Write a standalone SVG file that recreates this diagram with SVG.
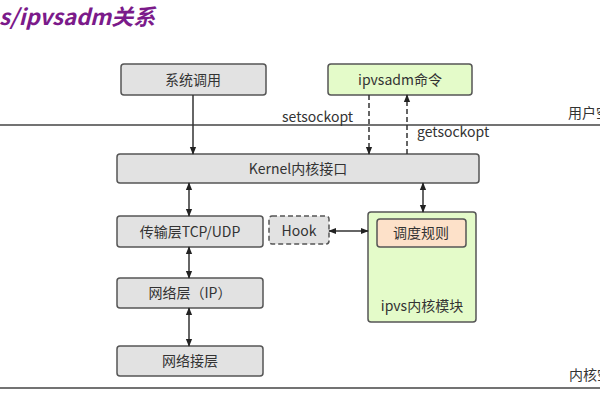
<svg xmlns="http://www.w3.org/2000/svg" width="600" height="400" viewBox="0 0 600 400">
<style>
text{font-family:"Noto Sans CJK SC","Noto Sans",sans-serif;fill:#333;font-size:14px}
.c{text-anchor:middle}
.box{fill:#e2e2e2;stroke:#555;stroke-width:1.5}
.green{fill:#e4fbc9;stroke:#555;stroke-width:1.5}
.ln{stroke:#333;stroke-width:1.5;fill:none}
.dash{stroke-dasharray:5,3}
</style>
<defs>
<marker id="ah" viewBox="0 0 10 10" refX="9" refY="5" markerWidth="8" markerHeight="8" orient="auto-start-reverse" markerUnits="userSpaceOnUse">
<path d="M0,1 L10,5 L0,9 z" fill="#222"/>
</marker>
</defs>
<rect width="600" height="400" fill="#fff"/>
<text x="-1" y="25" style="font-size:22px;font-weight:bold;font-style:italic;fill:#7b1a8a">s/ipvsadm关系</text>
<g id="lines">
<line x1="0" y1="125" x2="600" y2="125" stroke="#444" stroke-width="1.5"/>
<line x1="0" y1="388" x2="600" y2="388" stroke="#444" stroke-width="1.5"/>
<text x="568" y="118">用户空间</text>
<text x="569" y="380">内核空间</text>
</g>
<g id="n_syscall"><rect class="box" x="121" y="64" width="145" height="31" rx="3"/><text class="c" x="193" y="85">系统调用</text></g>
<g id="n_ipvsadm"><rect class="green" x="328" y="64" width="144" height="31" rx="3"/><text class="c" x="400" y="85">ipvsadm命令</text></g>
<g id="n_kernel"><rect class="box" x="117" y="154" width="362" height="29" rx="3"/><text class="c" x="298" y="174">Kernel内核接口</text></g>
<g id="n_tcp"><rect class="box" x="117" y="216" width="146" height="31" rx="3"/><text class="c" x="190" y="237">传输层TCP/UDP</text></g>
<g id="n_hook"><rect x="269" y="216" width="60" height="28" rx="3" fill="#e2e2e2" stroke="#555" stroke-width="1.5" stroke-dasharray="5,3"/><text class="c" x="299" y="236">Hook</text></g>
<g id="n_ipvs"><rect class="green" x="368" y="212" width="108" height="110" rx="3"/><text class="c" x="422" y="311">ipvs内核模块</text></g>
<g id="n_sched"><rect x="377" y="219" width="89" height="28" rx="3" fill="#fde1c9" stroke="#555" stroke-width="1.5"/><text class="c" x="421" y="238">调度规则</text></g>
<g id="n_ip"><rect class="box" x="117" y="278" width="146" height="30" rx="3"/><text class="c" x="190" y="298">网络层（IP）</text></g>
<g id="n_link"><rect class="box" x="117" y="346" width="146" height="30" rx="3"/><text class="c" x="190" y="366">网络接层</text></g>
<g id="connectors">
<line class="ln" x1="193" y1="95" x2="193" y2="154" marker-end="url(#ah)"/>
<line class="ln dash" x1="369" y1="95" x2="369" y2="154" marker-end="url(#ah)"/>
<line class="ln dash" x1="407" y1="154" x2="407" y2="95" marker-end="url(#ah)"/>
<text x="282" y="122">setsockopt</text>
<text x="417" y="137">getsockopt</text>
<line class="ln" x1="189" y1="183" x2="189" y2="216" marker-start="url(#ah)" marker-end="url(#ah)"/>
<line class="ln" x1="423" y1="183" x2="423" y2="212" marker-start="url(#ah)" marker-end="url(#ah)"/>
<line class="ln" x1="329" y1="231" x2="368" y2="231" marker-start="url(#ah)" marker-end="url(#ah)"/>
<line class="ln" x1="189" y1="247" x2="189" y2="278" marker-start="url(#ah)" marker-end="url(#ah)"/>
<line class="ln" x1="189" y1="308" x2="189" y2="346" marker-start="url(#ah)" marker-end="url(#ah)"/>
</g>
</svg>
